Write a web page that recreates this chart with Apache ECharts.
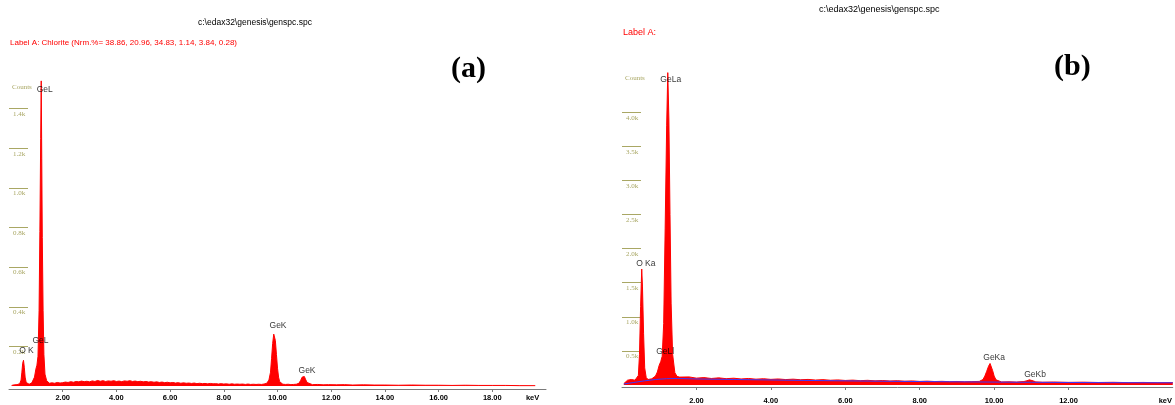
<!DOCTYPE html>
<html>
<head>
<meta charset="utf-8">
<script src="https://cdn.jsdelivr.net/npm/echarts@6/dist/echarts.min.js"></script>
<style>
html,body{margin:0;padding:0;background:#fff;}
#chart{width:1175px;height:405px;}
</style>
</head>
<body>
<div id="chart"></div>
<script>
// ---------- Panel (a) spectrum ----------
const keVA = [0.10,0.15,0.20,0.25,0.30,0.35,0.40,0.45,0.48,0.51,0.54,0.57,0.60,0.64,0.70,0.75,0.80,0.85,0.90,0.95,1.00,1.04,1.08,1.12,1.15,1.18,1.20,1.22,1.24,1.27,1.30,1.34,1.40,1.45,1.50,
 1.6,1.7,1.8,1.9,2.0,2.1,2.2,2.3,2.4,2.5,2.6,2.7,2.8,2.9,3.0,3.1,3.2,3.3,3.4,3.5,3.6,3.7,3.8,3.9,4.0,4.1,4.2,4.3,4.4,4.5,4.6,4.7,4.8,4.9,5.0,5.1,5.2,5.3,5.4,5.5,5.6,5.7,5.8,5.9,6.0,6.1,6.2,6.3,6.4,6.5,6.6,6.7,6.8,6.9,7.0,7.1,7.2,7.3,7.4,7.5,7.6,7.7,7.8,7.9,8.0,8.1,8.2,8.3,8.4,8.5,8.6,8.7,8.8,8.9,9.0,9.1,9.2,9.3,9.4,9.5,9.6,
 9.68,9.74,9.78,9.82,9.86,9.89,9.92,9.96,10.0,10.04,10.08,10.14,10.2,10.3,10.4,10.5,10.6,10.7,10.8,10.86,10.92,10.96,11.0,11.04,11.1,11.16,11.3,11.5,11.7,11.9,12.2,12.5,12.8,13.2,13.6,14.0,14.5,15.0,15.5,16.0,16.5,17.0,17.5,18.0,18.5,19.0,19.6];
const countsA = [3,8,6,10,7,9,12,30,70,115,130,95,45,18,10,9,12,16,24,45,85,105,150,380,780,1250,1540,1150,750,380,160,60,28,18,14,
 16,14,18,15,17,20,18,22,19,23,21,25,22,24,21,26,23,28,24,27,23,26,24,27,23,25,22,26,24,27,23,25,22,24,21,23,20,22,19,21,18,20,17,19,16,18,15,17,14,16,14,15,13,15,12,14,12,13,11,13,11,12,10,12,10,11,9,11,9,10,9,10,8,10,8,9,8,9,8,10,14,
 30,70,140,215,262,268,230,160,90,45,22,12,9,8,9,7,8,9,14,28,45,52,48,35,18,10,7,8,6,7,6,7,5,6,5,5,4,5,4,4,3,4,3,3,3,2,2];

// ---------- Panel (b) spectrum ----------
const keVB = [0.05,0.10,0.15,0.20,0.25,0.30,0.35,0.40,0.44,0.47,0.50,0.53,0.55,0.58,0.61,0.65,0.70,0.75,0.80,0.85,0.90,0.95,1.00,1.04,1.08,1.12,1.16,1.20,1.23,1.26,1.29,1.32,1.36,1.42,1.48,1.55,
 1.6,1.8,2.0,2.2,2.4,2.6,2.8,3.0,3.2,3.4,3.6,3.8,4.0,4.2,4.4,4.6,4.8,5.0,5.2,5.4,5.6,5.8,6.0,6.2,6.4,6.6,6.8,7.0,7.2,7.4,7.6,7.8,8.0,8.2,8.4,8.6,8.8,9.0,9.2,9.4,9.6,
 9.7,9.75,9.8,9.85,9.89,9.92,9.96,10.0,10.05,10.1,10.2,10.4,10.6,10.8,10.88,10.95,11.0,11.06,11.12,11.3,11.6,12.0,12.4,12.8,13.2,13.6,14.0,14.4,14.8];
const countsB = [20,45,70,55,80,60,70,75,140,450,1150,1700,1450,750,250,110,80,85,90,100,130,190,290,340,420,900,2300,3800,4580,3900,2500,1200,450,180,125,115,
 110,118,100,108,95,104,92,99,88,95,85,91,82,88,79,85,76,81,72,78,69,74,66,71,63,68,60,65,58,62,55,59,52,56,50,53,48,51,46,49,52,
 80,130,200,275,315,290,210,130,75,50,44,46,42,50,62,75,72,58,45,40,43,38,41,36,39,34,37,33,35];
// background fit (blue line) in panel (b)
const bgKeVB = [0.05,0.3,0.6,0.9,1.2,1.5,2.0,3.0,4.0,5.0,6.0,7.0,8.0,9.0,10.0,11.0,12.0,13.0,14.8];
const bgCountsB = [15,35,60,80,92,95,88,80,73,66,60,55,50,46,42,39,36,34,32];

// ---------- Peak labels ----------
const peakNamesA = ['GeL','GeL','O K','GeK','GeK'];
const peakKeVA = [1.33,1.17,0.65,10.02,11.1];
const peakCountsA = [1494,228,178,304,77];
const peakNamesB = ['GeLa','O Ka','GeLl','GeKa','GeKb'];
const peakKeVB = [1.31,0.64,1.16,10.0,11.1];
const peakCountsB = [4478,1779,486,400,144];

// ---------- Tick values ----------
const yTicksA = [200,400,600,800,1000,1200,1400];
const yTicksB = [500,1000,1500,2000,2500,3000,3500,4000];
const xTicksA = [2,4,6,8,10,12,14,16,18];
const xLabelsA = [2,4,6,8,10,12,14,16,18,19.5];
const xTicksB = [2,4,6,8,10,12];
const xLabelsB = [2,4,6,8,10,12,14.6];
const unitPosA = 19.5, unitPosB = 14.6;

const olive = '#a9a764';
const zip = (a,b) => a.map((v,i)=>[v,b[i]]);
const zip3 = (a,b,c) => a.map((v,i)=>[v,b[i],c[i]]);

function xAxisCfg(idx, max, ticks, labels, unitPos, margin){
  return {
    type:'value', gridIndex:idx, min:0, max:max,
    axisLine:{show:true,onZero:false,lineStyle:{color:'#7a7a7a',width:1}},
    axisTick:{show:true,customValues:ticks,length:3,lineStyle:{color:'#7a7a7a'}},
    splitLine:{show:false},
    axisLabel:{customValues:labels,margin:margin,color:'#000',fontWeight:'bold',fontSize:7.5,
      fontFamily:'Liberation Sans, Arial, sans-serif',
      formatter:v => (Math.abs(v-unitPos)<1e-6 ? 'keV' : v.toFixed(2))}
  };
}
function yAxisCfg(idx, min, max, ticks){
  return {
    type:'value', gridIndex:idx, min:min, max:max,
    axisLine:{show:false}, splitLine:{show:false},
    axisTick:{show:true,inside:true,length:19,customValues:ticks,lineStyle:{color:olive,width:1}},
    axisLabel:{show:true,inside:true,customValues:ticks,margin:10,align:'center',verticalAlign:'top',
      padding:[2,0,0,0],color:olive,fontSize:7,fontFamily:'Liberation Serif, Times New Roman, serif',
      formatter:v => (v/1000).toFixed(1)+'k'}
  };
}
function labelSeries(xi, yi, names, kev, counts){
  return {
    type:'scatter', xAxisIndex:xi, yAxisIndex:yi, symbolSize:0, silent:true, z:5,
    data: zip3(kev,counts,names),
    label:{show:true,position:'inside',formatter:p=>p.value[2],color:'#000',fontSize:8.5,
      fontFamily:'Liberation Sans, Arial, sans-serif'}
  };
}
function specSeries(xi, yi, kev, counts){
  return {
    type:'line', xAxisIndex:xi, yAxisIndex:yi, showSymbol:false, symbol:'none', smooth:false,
    sampling:'none', silent:true, z:2,
    data: zip(kev,counts),
    lineStyle:{color:'#ff0000',width:1},
    areaStyle:{color:'#ff0000',opacity:1,origin:'auto'}
  };
}

const txt = (text,left,top,size,color,family,weight) => ({
  text:text,left:left,top:top,padding:0,
  textStyle:{fontSize:size,color:color,fontFamily:family,fontWeight:weight||'normal'}
});
const sans = 'Liberation Sans, Arial, sans-serif';
const serif = 'Liberation Serif, Times New Roman, serif';

const chart = echarts.init(document.getElementById('chart'),null,{renderer:'canvas'});
chart.setOption({
  animation:false,
  backgroundColor:'#fff',
  title:[
    txt('c:\\edax32\\genesis\\genspc.spc',198,18,8.5,'#000',sans),
    txt('Label A: Chlorite (Nrm.%= 38.86, 20.96, 34.83, 1.14, 3.84, 0.28)',10,39,8,'#ff0000',sans),
    txt('(a)',451,54,30,'#000',serif,'bold'),
    txt('Counts',12,84,7,olive,serif),
    txt('c:\\edax32\\genesis\\genspc.spc',819,5,9,'#000',sans),
    txt('Label A:',623,28,9,'#ff0000',sans),
    txt('(b)',1054,52,30,'#000',serif,'bold'),
    txt('Counts',625,75,7,olive,serif)
  ],
  grid:[
    {left:9,top:69,width:537,height:320},
    {left:622,top:44,right:0,height:349}
  ],
  xAxis:[
    xAxisCfg(0,20,xTicksA,xLabelsA,unitPosA,5),
    xAxisCfg(1,14.8,xTicksB,xLabelsB,unitPosB,10)
  ],
  yAxis:[
    yAxisCfg(0,-15,1600,yTicksA),
    yAxisCfg(1,-30,5000,yTicksB)
  ],
  series:[
    specSeries(0,0,keVA,countsA),
    specSeries(1,1,keVB,countsB),
    {
      type:'line', xAxisIndex:1, yAxisIndex:1, showSymbol:false, symbol:'none', silent:true, z:3,
      data: zip(bgKeVB,bgCountsB), lineStyle:{color:'#3a3aff',width:1}
    },
    labelSeries(0,0,peakNamesA,peakKeVA,peakCountsA),
    labelSeries(1,1,peakNamesB,peakKeVB,peakCountsB)
  ]
});
</script>
</body>
</html>
